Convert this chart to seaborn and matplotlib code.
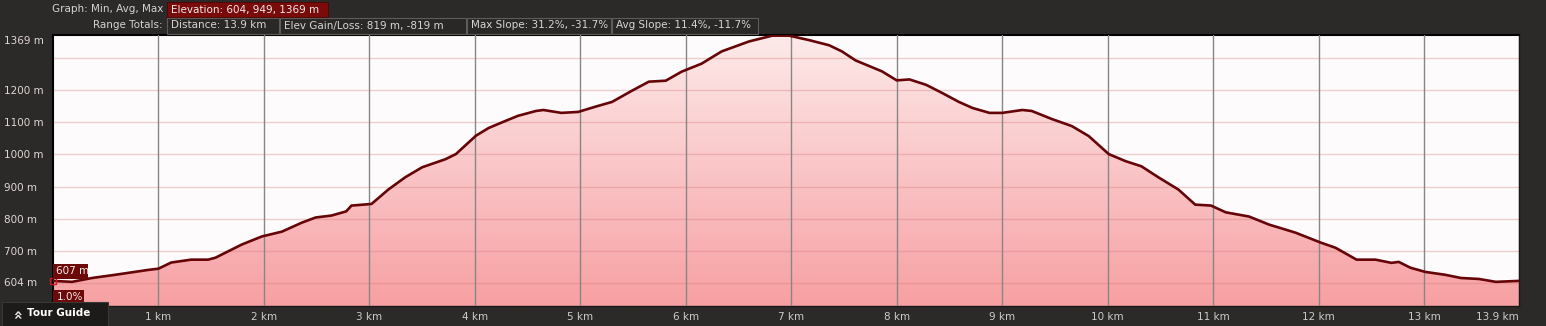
import numpy as np
import pandas as pd
import matplotlib
matplotlib.use("Agg")
import matplotlib.pyplot as plt
import seaborn as sns
from matplotlib.patches import Rectangle, Polygon
from matplotlib.colors import LinearSegmentedColormap

# ---------------- data ----------------
distance_km = [0.00, 0.18, 0.37, 0.59, 0.90, 1.00, 1.12, 1.31, 1.47, 1.54,
               1.79, 1.98, 2.17, 2.36, 2.49, 2.64, 2.78, 2.83, 3.02, 3.18,
               3.34, 3.50, 3.72, 3.82, 4.01, 4.13, 4.29, 4.41, 4.58, 4.65,
               4.82, 4.98, 5.14, 5.30, 5.49, 5.65, 5.81, 5.96, 6.15, 6.34,
               6.60, 6.82, 6.98, 7.17, 7.36, 7.48, 7.61, 7.86, 8.00, 8.12,
               8.28, 8.43, 8.59, 8.72, 8.88, 9.00, 9.19, 9.28, 9.47, 9.66,
               9.82, 10.01, 10.17, 10.32, 10.48, 10.67, 10.83, 10.98, 11.12, 11.34,
               11.53, 11.78, 12.02, 12.16, 12.36, 12.54, 12.69, 12.76, 12.87, 13.01,
               13.20, 13.35, 13.52, 13.68, 13.90]
elevation_m = [607, 604, 616, 626, 641, 645, 664, 673, 673, 679,
               720, 745, 760, 788, 804, 810, 823, 841, 846, 891,
               929, 960, 985, 1001, 1058, 1082, 1104, 1120, 1135, 1138,
               1129, 1132, 1148, 1163, 1198, 1226, 1229, 1257, 1282, 1320,
               1351, 1369, 1369, 1355, 1339, 1320, 1292, 1258, 1230, 1233,
               1216, 1191, 1163, 1144, 1129, 1129, 1138, 1135, 1110, 1088,
               1057, 1001, 979, 963, 929, 891, 844, 841, 820, 807,
               782, 757, 726, 710, 673, 673, 663, 666, 648, 635,
               626, 616, 613, 604, 607]

x_tick_km = [1, 2, 3, 4, 5, 6, 7, 8, 9, 10, 11, 12, 13, 13.9]
x_tick_labels = ["1 km", "2 km", "3 km", "4 km", "5 km", "6 km", "7 km",
                 "8 km", "9 km", "10 km", "11 km", "12 km", "13 km", "13.9 km"]
y_tick_m = [604, 700, 800, 900, 1000, 1100, 1200, 1369]
y_tick_labels = ["604 m", "700 m", "800 m", "900 m", "1000 m", "1100 m", "1200 m", "1369 m"]
y_grid_m = [600, 700, 800, 900, 1000, 1100, 1200, 1300]

header_row1_label = "Graph: Min, Avg, Max"
header_row1_box = "Elevation: 604, 949, 1369 m"
header_row2_label = "Range Totals:"
header_row2_boxes = ["Distance: 13.9 km", "Elev Gain/Loss: 819 m, -819 m",
                     "Max Slope: 31.2%, -31.7%", "Avg Slope: 11.4%, -11.7%"]
start_label = "607 m"
slope_label = "1.0%"
tour_label = "Tour Guide"

# ---------------- style ----------------
BG = "#2c2a28"
sns.set_theme(style="white")
plt.rcParams['font.family'] = ['DejaVu Sans']

W, H = 1546, 326
fig = plt.figure(figsize=(W / 100, H / 100), dpi=100, facecolor=BG)

X0, X1, Y0, Y1 = 53, 1519, 35, 306
ax = fig.add_axes([X0 / W, (H - Y1) / H, (X1 - X0) / W, (Y1 - Y0) / H])
ax.set_facecolor("#fdfbfb")

df = pd.DataFrame({"km": distance_km, "m": elevation_m})
YMIN, YMAX = 529, 1371
ax.set_xlim(0, 13.9)
ax.set_ylim(YMIN, YMAX)

# gradient fill under the profile
grad = np.linspace(0, 1, 256)[:, None]
cmap = LinearSegmentedColormap.from_list("g", ["#f7a0a3", "#fdeaea"])
im = ax.imshow(grad, extent=[0, 13.9, YMIN, YMAX], origin="lower", cmap=cmap,
               aspect="auto", zorder=1, interpolation="bilinear")
km = np.asarray(distance_km)
el = np.asarray(elevation_m)
verts = np.column_stack([np.r_[km[0], km, km[-1]], np.r_[YMIN, el, YMIN]])
clip = Polygon(verts, closed=True, transform=ax.transData, fc="none", ec="none")
ax.add_patch(clip)
im.set_clip_path(clip)

# horizontal grid lines (pinkish) at round elevations
for gy in y_grid_m:
    ax.axhline(gy, color=(0.82, 0.45, 0.45, 0.32), lw=1.0, zorder=2)

sns.lineplot(data=df, x="km", y="m", ax=ax, color="#660508", lw=1.9, zorder=5)
ax.set_xlabel("")
ax.set_ylabel("")

# ticks & grid
ax.set_xticks(x_tick_km)
ax.set_xticklabels(x_tick_labels)
ax.set_yticks(y_tick_m)
ax.set_yticklabels(y_tick_labels)
ax.set_axisbelow(False)
ax.grid(False)
ax.grid(which="major", axis="x", color="#8a8585", lw=1.0, zorder=2)
ax.tick_params(axis="both", which="both", length=0)
ax.tick_params(axis="x", pad=4, labelsize=7.5, labelcolor="#cfcaca")
ax.tick_params(axis="y", pad=49 * 0.72, labelsize=7.5, labelcolor="#e0d6d4")
for lab in ax.get_yticklabels():
    lab.set_ha("left")
ax.get_yticklabels()[-1].set_va("top")
ax.get_xticklabels()[-1].set_ha("right")

for s in ["left", "top"]:
    ax.spines[s].set_color("#000000")
    ax.spines[s].set_linewidth(1.5)
for s in ["right", "bottom"]:
    ax.spines[s].set_color("#1a1817")
    ax.spines[s].set_linewidth(1.0)


# ---------------- header & overlays (figure pixel coords) ----------------
def rect(x, y, w, h, fc, ec="none", lw=0.0, z=10):
    r = Rectangle((x / W, 1 - (y + h) / H), w / W, h / H, transform=fig.transFigure,
                  fc=fc, ec=ec, lw=lw, zorder=z)
    fig.add_artist(r)


def text(x, y, s, ha="left", color="#d6d2d0", size=7.5, weight="normal", z=11, rot=0):
    fig.text(x / W, 1 - y / H, s, ha=ha, va="center", color=color, fontsize=size,
             fontweight=weight, zorder=z, rotation=rot)


text(163, 9.5, header_row1_label, ha="right")
rect(167, 2, 161, 15, "#7a0b0b", ec="#4a0606", lw=0.6)
text(171, 9.5, header_row1_box, color="#eeeaea")

text(163, 25.5, header_row2_label, ha="right")
box_x = [167, 280, 467, 612]
box_w = [112, 186, 144, 146]
for bx, bw, s in zip(box_x, box_w, header_row2_boxes):
    rect(bx, 18, bw, 16, "#2a2826", ec="#5e5b58", lw=0.8)
    text(bx + 4, 25.5, s, color="#d8d4d2")

# start value labels
rect(53, 264, 35, 15, "#6e0909")
text(56, 271.5, start_label, color="#f2eeee")
rect(53, 290, 31, 15, "#6e0909")
text(57, 297.5, slope_label, color="#f2eeee")
ax.plot([distance_km[0]], [elevation_m[0]], marker="s", ms=5, mfc="none",
        mec="#d01818", mew=1.0, zorder=6, clip_on=False)

# tour guide tab
rect(2, 302, 106, 26, "#1d1b1a", ec="#3a3735", lw=0.8, z=12)
text(18, 313, "\u00bb", color="#e8e8e8", size=11, weight="bold", z=13, rot=90, ha="center")
text(27, 313.5, tour_label, color="#ffffff", size=7.5, weight="bold", z=13)

fig.savefig("out.png", dpi=100, facecolor=BG)
